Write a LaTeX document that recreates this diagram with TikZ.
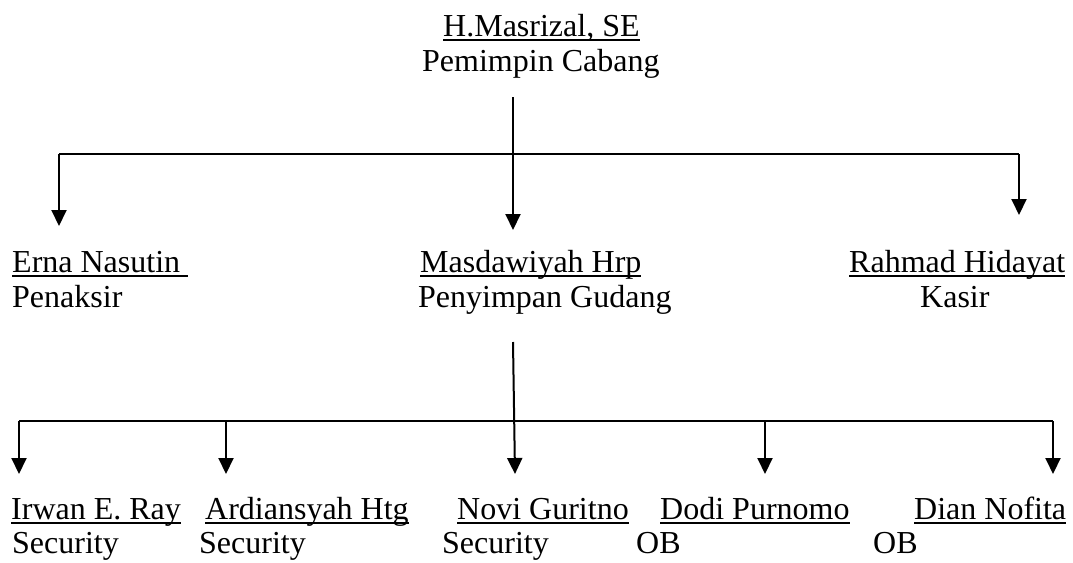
\documentclass[tikz,border=0pt]{standalone}
\usepackage{fontspec}
\setmainfont{Liberation Serif}
\usetikzlibrary{arrows.meta}
\newcommand\myul[1]{\setbox0\hbox{#1}\rlap{\rule[-4.5pt]{\wd0}{1.8pt}}\box0}
\begin{document}
\begin{tikzpicture}[x=1pt,y=-1pt,
  txt/.style={anchor=base west,inner sep=0pt,font=\fontsize{32}{35}\selectfont},
  conn/.style={line width=2pt},
  arr/.style={conn,-{Triangle[width=15pt,length=16pt]}}]
\useasboundingbox (0,0) rectangle (1073,562);
% top
\node[txt] (ceo) at (443,36) {\myul{H.Masrizal, SE}};
\node[txt] (ceor) at (422,71) {Pemimpin Cabang};
% row 2
\node[txt] (erna) at (12,272) {\myul{Erna Nasutin\ }};
\node[txt] (ernar) at (12,307) {Penaksir};
\node[txt] (masd) at (420,272) {\myul{Masdawiyah Hrp}};
\node[txt] (masdr) at (418,307) {Penyimpan Gudang};
\node[txt] (rahm) at (849,272) {\myul{Rahmad Hidayat}};
\node[txt] (rahmr) at (920,307) {Kasir};
% row 3
\node[txt] (irwan) at (11,519) {\myul{Irwan E. Ray}};
\node[txt] (irwanr) at (12,553) {Security};
\node[txt] (ardi) at (205,519) {\myul{Ardiansyah Htg}};
\node[txt] (ardir) at (199,553) {Security};
\node[txt] (novi) at (457,519) {\myul{Novi Guritno}};
\node[txt] (novir) at (442,553) {Security};
\node[txt] (dodi) at (660,519) {\myul{Dodi Purnomo}};
\node[txt] (dodir) at (636,553) {OB};
\node[txt] (dian) at (914,519) {\myul{Dian Nofita}};
\node[txt] (dianr) at (873,553) {OB};
% connector points
\coordinate (c0) at (513,97);
\coordinate (cm) at (513,230);
\coordinate (cl) at (59,154);
\coordinate (clt) at (59,226);
\coordinate (cr) at (1019,154);
\coordinate (crt) at (1019,215);
\draw[arr] (c0) -- (cm);
\draw[conn] (cl) -- (cr);
\draw[arr] (cl) -- (clt);
\draw[arr] (cr) -- (crt);
% lower bus
\coordinate (m0) at (513,342);
\coordinate (b1) at (19,421);
\coordinate (b2) at (226,421);
\coordinate (b4) at (765,421);
\coordinate (b5) at (1053,421);
\coordinate (t1) at (19,474);
\coordinate (t2) at (226,474);
\coordinate (t3) at (515,474);
\coordinate (t4) at (765,474);
\coordinate (t5) at (1053,474);
\draw[arr] (m0) -- (t3);
\draw[conn] (b1) -- (b5);
\draw[arr] (b1) -- (t1);
\draw[arr] (b2) -- (t2);
\draw[arr] (b4) -- (t4);
\draw[arr] (b5) -- (t5);
\end{tikzpicture}
\end{document}
